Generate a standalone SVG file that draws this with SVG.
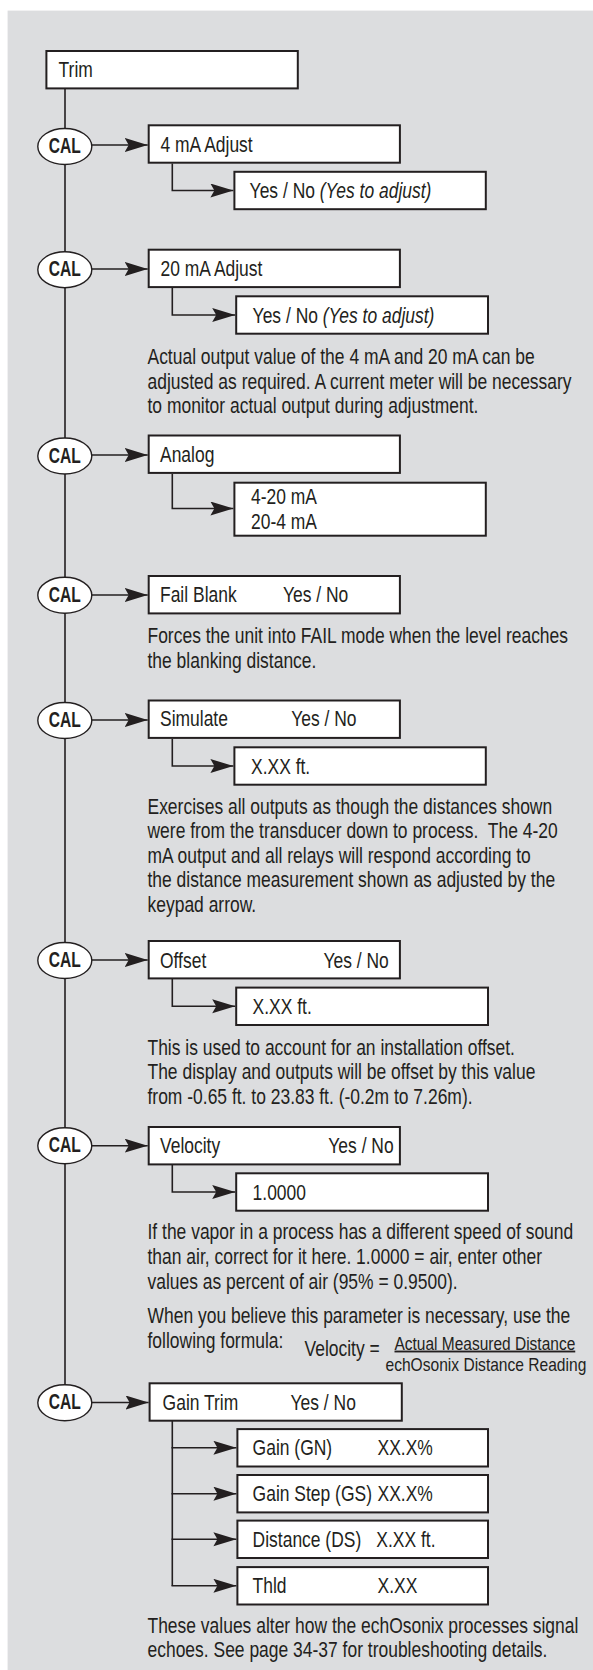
<svg xmlns="http://www.w3.org/2000/svg" width="593" height="1670" viewBox="0 0 593 1670">
<style>
.t{font-family:'Liberation Sans',Arial,sans-serif;font-size:21.3px;fill:#231f20}
.f{font-family:'Liberation Sans',Arial,sans-serif;font-size:18.5px;fill:#231f20}
.cal{font-family:'Liberation Sans',Arial,sans-serif;font-size:21.5px;font-weight:bold;fill:#231f20}
.box{fill:#fff;stroke:#231f20;stroke-width:2}
.ell{fill:#fff;stroke:#231f20;stroke-width:1.4}
.ln{fill:none;stroke:#231f20;stroke-width:1.6}
.ar{fill:none;stroke:#231f20;stroke-width:1.6;marker-end:url(#ah)}
</style>
<defs>
<marker id="ah" markerUnits="userSpaceOnUse" markerWidth="24" markerHeight="16" refX="23" refY="7" orient="auto">
<path d="M0,0 L23,7 L0,14 L4,7 Z" fill="#231f20"/>
</marker>
</defs>
<rect x="7.6" y="10.6" width="586" height="1660" fill="#dcdddf"/>

<g id="connectors">
<line class="ln" x1="65" y1="89" x2="65" y2="1400"/>
<line class="ar" x1="90" y1="145" x2="147.7" y2="145"/>
<polyline class="ar" points="172.3,163.5 172.3,190.5 233.4,190.5"/>
<line class="ar" x1="90" y1="269" x2="147.7" y2="269"/>
<polyline class="ar" points="172.3,288 172.3,315 235.2,315"/>
<line class="ar" x1="90" y1="455" x2="147.7" y2="455"/>
<polyline class="ar" points="172.3,474 172.3,508.5 233.4,508.5"/>
<line class="ar" x1="90" y1="595" x2="147.7" y2="595"/>
<line class="ar" x1="90" y1="720" x2="147.7" y2="720"/>
<polyline class="ar" points="172.3,739 172.3,766 233.4,766"/>
<line class="ar" x1="90" y1="960" x2="147.7" y2="960"/>
<polyline class="ar" points="172.3,979 172.3,1006.3 235.2,1006.3"/>
<line class="ar" x1="90" y1="1145.7" x2="147.7" y2="1145.7"/>
<polyline class="ar" points="172.3,1165 172.3,1192 235.2,1192"/>
<line class="ar" x1="90" y1="1402.5" x2="148.6" y2="1402.5"/>
<line class="ln" x1="172.3" y1="1421" x2="172.3" y2="1585.8"/>
<line class="ar" x1="171.5" y1="1447.8" x2="236.4" y2="1447.8"/>
<line class="ar" x1="171.5" y1="1493.7" x2="236.4" y2="1493.7"/>
<line class="ar" x1="171.5" y1="1539.3" x2="236.4" y2="1539.3"/>
<line class="ar" x1="171.5" y1="1585.8" x2="236.4" y2="1585.8"/>
</g>

<g id="trim"><rect class="box" x="46.4" y="51" width="251.4" height="37.4"/><text class="t" transform="translate(58.6,77) scale(0.82,1)">Trim</text></g>

<g id="cal1"><ellipse class="ell" cx="64.8" cy="146.5" rx="27" ry="18"/><text class="cal" x="64.8" y="153" text-anchor="middle" textLength="32" lengthAdjust="spacingAndGlyphs">CAL</text></g>
<g id="ma4"><rect class="box" x="148.7" y="125.3" width="251.2" height="37.4"/><text class="t" transform="translate(160.5,151.7) scale(0.82,1)">4 mA Adjust</text></g>
<g id="ma4-yes"><rect class="box" x="234.4" y="171.8" width="251.4" height="37.4"/><text class="t" transform="translate(249.6,198) scale(0.82,1)">Yes / No <tspan font-style="italic">(Yes to adjust)</tspan></text></g>

<g id="cal2"><ellipse class="ell" cx="64.8" cy="269.7" rx="27" ry="18"/><text class="cal" x="64.8" y="276.2" text-anchor="middle" textLength="32" lengthAdjust="spacingAndGlyphs">CAL</text></g>
<g id="ma20"><rect class="box" x="148.7" y="249.7" width="251.2" height="37.4"/><text class="t" transform="translate(160.5,276) scale(0.82,1)">20 mA Adjust</text></g>
<g id="ma20-yes"><rect class="box" x="236.2" y="296.3" width="251.8" height="37.4"/><text class="t" transform="translate(252.6,322.5) scale(0.82,1)">Yes / No <tspan font-style="italic">(Yes to adjust)</tspan></text></g>
<g id="note-ma"><text class="t" transform="translate(147.5,364) scale(0.82,1)">Actual output value of the 4 mA and 20 mA can be</text><text class="t" transform="translate(147.5,388.7) scale(0.82,1)">adjusted as required. A current meter will be necessary</text><text class="t" transform="translate(147.5,413.3) scale(0.82,1)">to monitor actual output during adjustment.</text></g>

<g id="cal3"><ellipse class="ell" cx="64.8" cy="456" rx="27" ry="18"/><text class="cal" x="64.8" y="462.5" text-anchor="middle" textLength="32" lengthAdjust="spacingAndGlyphs">CAL</text></g>
<g id="analog"><rect class="box" x="148.7" y="435.5" width="251.2" height="37.4"/><text class="t" transform="translate(160,461.7) scale(0.82,1)">Analog</text></g>
<g id="analog-opt"><rect class="box" x="234.4" y="482.7" width="251.4" height="53"/><text class="t" transform="translate(251,504) scale(0.82,1)">4-20 mA</text><text class="t" transform="translate(251,529) scale(0.82,1)">20-4 mA</text></g>

<g id="cal4"><ellipse class="ell" cx="64.8" cy="595.3" rx="27" ry="18"/><text class="cal" x="64.8" y="601.8" text-anchor="middle" textLength="32" lengthAdjust="spacingAndGlyphs">CAL</text></g>
<g id="failblank"><rect class="box" x="148.7" y="576" width="251.2" height="37.4"/><text class="t" transform="translate(160,602.2) scale(0.82,1)">Fail Blank</text><text class="t" transform="translate(282.9,602.2) scale(0.82,1)">Yes / No</text></g>
<g id="note-fail"><text class="t" transform="translate(147.5,643.3) scale(0.82,1)">Forces the unit into FAIL mode when the level reaches</text><text class="t" transform="translate(147.5,668.3) scale(0.82,1)">the blanking distance.</text></g>

<g id="cal5"><ellipse class="ell" cx="64.8" cy="720.5" rx="27" ry="18"/><text class="cal" x="64.8" y="727" text-anchor="middle" textLength="32" lengthAdjust="spacingAndGlyphs">CAL</text></g>
<g id="simulate"><rect class="box" x="148.7" y="700.5" width="251.2" height="37.4"/><text class="t" transform="translate(160,726.2) scale(0.82,1)">Simulate</text><text class="t" transform="translate(291.2,726.2) scale(0.82,1)">Yes / No</text></g>
<g id="simulate-val"><rect class="box" x="234.4" y="747.3" width="251.4" height="37.4"/><text class="t" transform="translate(251,773.5) scale(0.82,1)">X.XX ft.</text></g>
<g id="note-sim"><text class="t" transform="translate(147.5,814) scale(0.82,1)">Exercises all outputs as though the distances shown</text><text class="t" transform="translate(147.5,838.4) scale(0.82,1)" xml:space="preserve">were from the transducer down to process.  The 4-20</text><text class="t" transform="translate(147.5,862.8) scale(0.82,1)">mA output and all relays will respond according to</text><text class="t" transform="translate(147.5,887.2) scale(0.82,1)">the distance measurement shown as adjusted by the</text><text class="t" transform="translate(147.5,911.6) scale(0.82,1)">keypad arrow.</text></g>

<g id="cal6"><ellipse class="ell" cx="64.8" cy="960.5" rx="27" ry="18"/><text class="cal" x="64.8" y="967" text-anchor="middle" textLength="32" lengthAdjust="spacingAndGlyphs">CAL</text></g>
<g id="offset"><rect class="box" x="148.7" y="941" width="251.2" height="37.4"/><text class="t" transform="translate(160,967.6) scale(0.82,1)">Offset</text><text class="t" transform="translate(323.4,967.6) scale(0.82,1)">Yes / No</text></g>
<g id="offset-val"><rect class="box" x="236.2" y="987.6" width="251.8" height="37.4"/><text class="t" transform="translate(252.6,1013.8) scale(0.82,1)">X.XX ft.</text></g>
<g id="note-offset"><text class="t" transform="translate(147.5,1055) scale(0.82,1)">This is used to account for an installation offset.</text><text class="t" transform="translate(147.5,1079.4) scale(0.82,1)">The display and outputs will be offset by this value</text><text class="t" transform="translate(147.5,1103.8) scale(0.82,1)">from -0.65 ft. to 23.83 ft. (-0.2m to 7.26m).</text></g>

<g id="cal7"><ellipse class="ell" cx="64.8" cy="1145.8" rx="27" ry="18"/><text class="cal" x="64.8" y="1152.3" text-anchor="middle" textLength="32" lengthAdjust="spacingAndGlyphs">CAL</text></g>
<g id="velocity"><rect class="box" x="148.7" y="1127" width="251.2" height="37.4"/><text class="t" transform="translate(160,1153.2) scale(0.82,1)">Velocity</text><text class="t" transform="translate(328.3,1153.2) scale(0.82,1)">Yes / No</text></g>
<g id="velocity-val"><rect class="box" x="236.2" y="1173.3" width="251.8" height="37.4"/><text class="t" transform="translate(252.6,1199.5) scale(0.82,1)">1.0000</text></g>
<g id="note-velocity"><text class="t" transform="translate(147.5,1239.3) scale(0.82,1)">If the vapor in a process has a different speed of sound</text><text class="t" transform="translate(147.5,1264.1) scale(0.82,1)">than air, correct for it here. 1.0000 = air, enter other</text><text class="t" transform="translate(147.5,1288.9) scale(0.82,1)">values as percent of air (95% = 0.9500).</text><text class="t" transform="translate(147.5,1323.3) scale(0.82,1)">When you believe this parameter is necessary, use the</text><text class="t" transform="translate(147.5,1347.7) scale(0.82,1)">following formula:</text><text class="t" transform="translate(304.5,1355.5) scale(0.82,1)">Velocity =</text><text class="f" transform="translate(394.5,1349.5) scale(0.838,1)" text-decoration="underline">Actual Measured Distance</text><text class="f" transform="translate(385.5,1370.5) scale(0.842,1)">echOsonix Distance Reading</text></g>

<g id="cal8"><ellipse class="ell" cx="64.8" cy="1402.8" rx="27" ry="18"/><text class="cal" x="64.8" y="1409.3" text-anchor="middle" textLength="32" lengthAdjust="spacingAndGlyphs">CAL</text></g>
<g id="gaintrim"><rect class="box" x="149.6" y="1383.3" width="252.2" height="37.4"/><text class="t" transform="translate(162.6,1409.5) scale(0.82,1)">Gain Trim</text><text class="t" transform="translate(290.5,1409.5) scale(0.82,1)">Yes / No</text></g>
<g id="gain-gn"><rect class="box" x="237.4" y="1429.1" width="250.6" height="37.4"/><text class="t" transform="translate(252.6,1455.3) scale(0.82,1)">Gain (GN)</text><text class="t" transform="translate(377.5,1455.3) scale(0.82,1)">XX.X%</text></g>
<g id="gain-gs"><rect class="box" x="237.4" y="1475" width="250.6" height="37.4"/><text class="t" transform="translate(252.6,1501.2) scale(0.82,1)">Gain Step (GS)</text><text class="t" transform="translate(377.5,1501.2) scale(0.82,1)">XX.X%</text></g>
<g id="gain-ds"><rect class="box" x="237.4" y="1520.6" width="250.6" height="37.4"/><text class="t" transform="translate(252.6,1546.8) scale(0.82,1)">Distance (DS)</text><text class="t" transform="translate(376.3,1546.8) scale(0.82,1)">X.XX ft.</text></g>
<g id="gain-thld"><rect class="box" x="237.4" y="1567.1" width="250.6" height="37.4"/><text class="t" transform="translate(252.6,1593.3) scale(0.82,1)">Thld</text><text class="t" transform="translate(377.5,1593.3) scale(0.82,1)">X.XX</text></g>
<g id="note-gain"><text class="t" transform="translate(147.5,1633.3) scale(0.82,1)">These values alter how the echOsonix processes signal</text><text class="t" transform="translate(147.5,1656.7) scale(0.82,1)">echoes. See page 34-37 for troubleshooting details.</text></g>
</svg>
